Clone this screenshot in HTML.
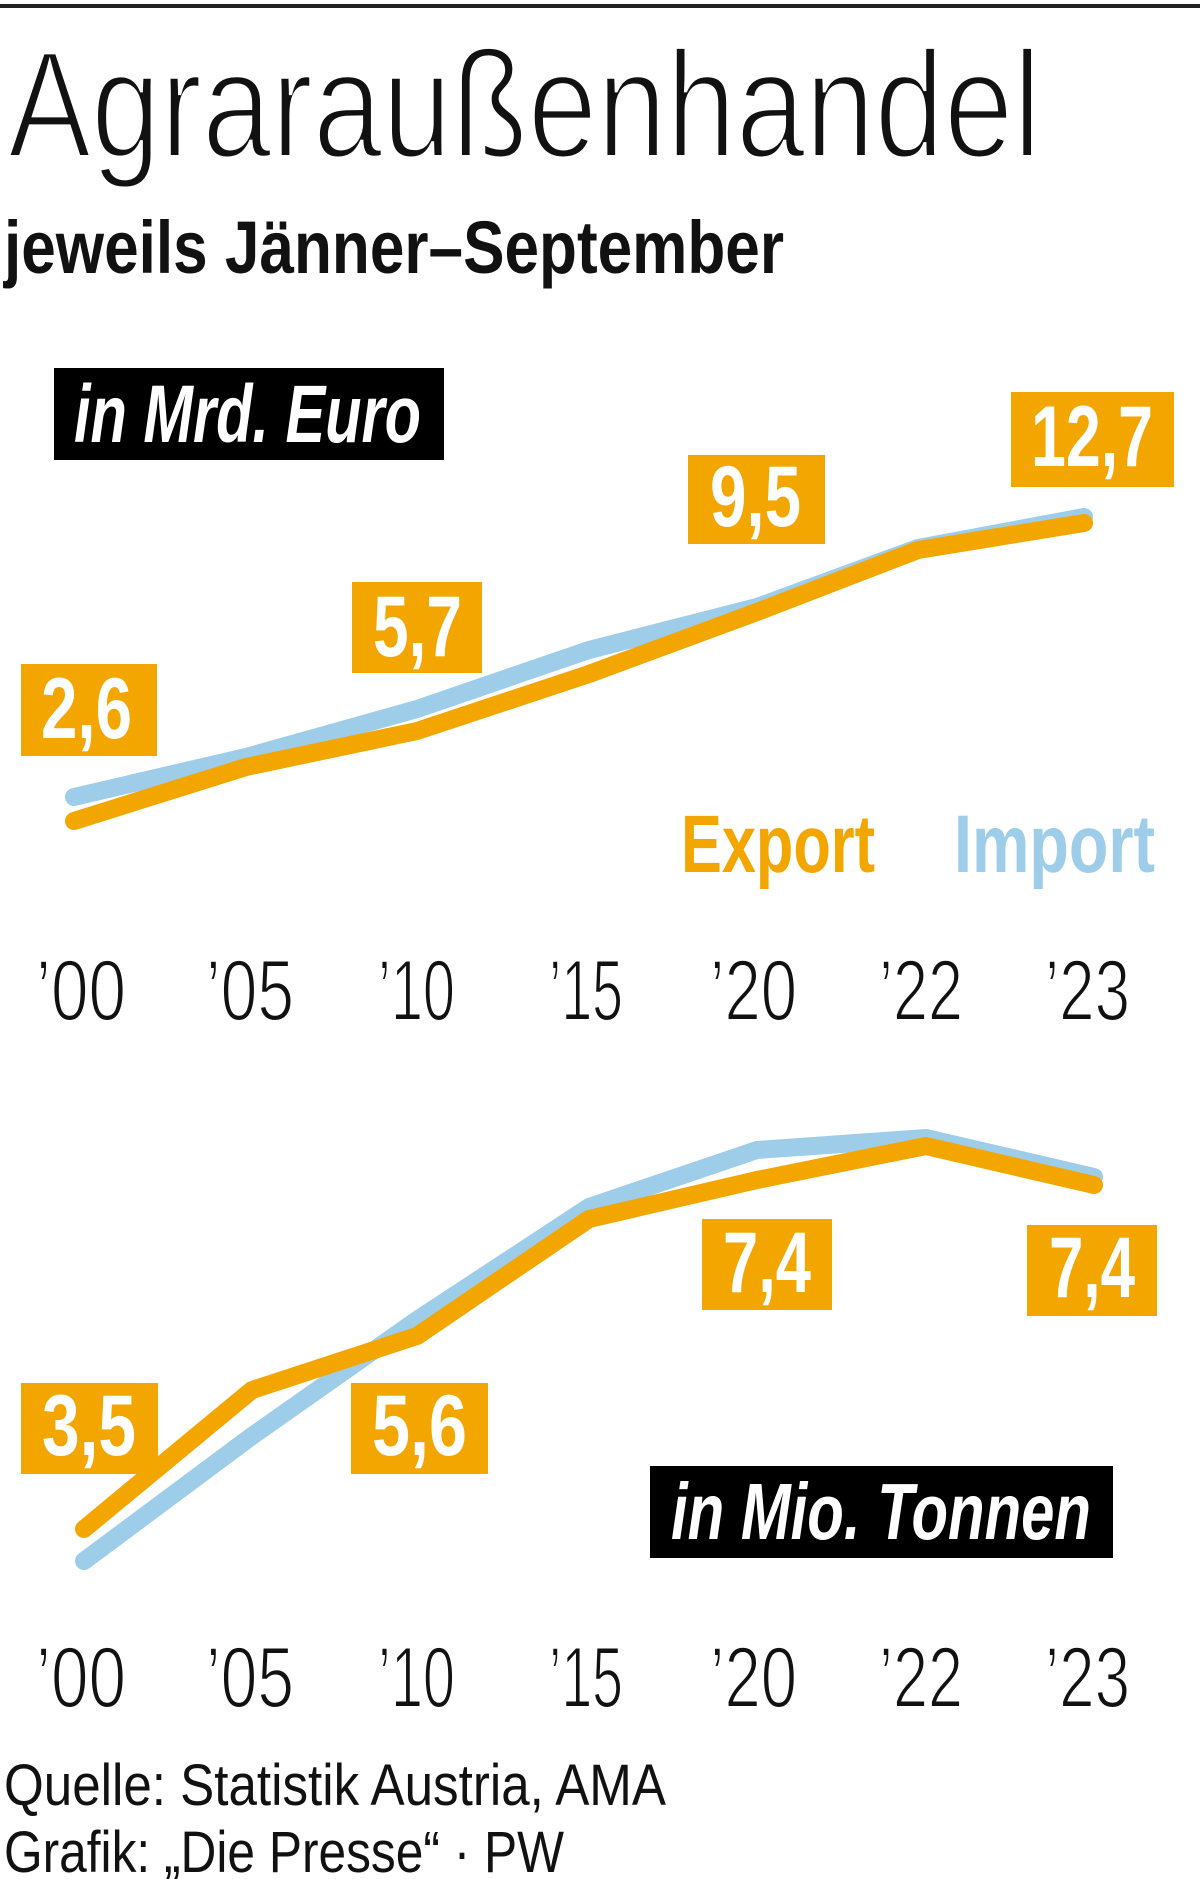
<!DOCTYPE html>
<html><head><meta charset="utf-8"><style>
html,body{margin:0;padding:0;background:#fff;}
svg{display:block;}
text{font-family:"Liberation Sans",sans-serif;}
</style></head><body>
<svg width="1200" height="1879" viewBox="0 0 1200 1879" xmlns="http://www.w3.org/2000/svg">
<rect x="0" y="0" width="1200" height="1879" fill="#fff"/>
<rect x="0" y="4" width="1200" height="4" fill="#222"/>

<text x="8" y="157" font-size="152" textLength="1033" lengthAdjust="spacingAndGlyphs" fill="#111" stroke="#fff" stroke-width="4">Agraraußenhandel</text>
<text x="4" y="273" font-size="74" font-weight="bold" textLength="780" lengthAdjust="spacingAndGlyphs" fill="#111">jeweils Jänner–September</text>

<rect x="54" y="368" width="390" height="92" fill="#000"/>
<text x="74" y="442" font-size="82" font-weight="bold" font-style="italic" textLength="347" lengthAdjust="spacingAndGlyphs" fill="#fff">in Mrd. Euro</text>

<!-- chart 1 lines -->
<polyline points="74,797 246,757 417,709 589,650 757,607 918,548 1084,517" fill="none" stroke="#9ECDEA" stroke-width="18" stroke-linecap="round" stroke-linejoin="round"/>
<polyline points="74,821 246,767 417,731 589,674 757,612 918,550 1084,523" fill="none" stroke="#F3A600" stroke-width="18" stroke-linecap="round" stroke-linejoin="round"/>

<rect x="21" y="664" width="136" height="92" fill="#F3A600"/>
<text x="41" y="738" font-size="86" font-weight="bold" textLength="91" lengthAdjust="spacingAndGlyphs" fill="#fff">2,6</text>
<rect x="352" y="582" width="130" height="91" fill="#F3A600"/>
<text x="373" y="656" font-size="86" font-weight="bold" textLength="89" lengthAdjust="spacingAndGlyphs" fill="#fff">5,7</text>
<rect x="688" y="455" width="137" height="89" fill="#F3A600"/>
<text x="710" y="526" font-size="86" font-weight="bold" textLength="91" lengthAdjust="spacingAndGlyphs" fill="#fff">9,5</text>
<rect x="1011" y="392" width="163" height="95" fill="#F3A600"/>
<text x="1031" y="466" font-size="86" font-weight="bold" textLength="122" lengthAdjust="spacingAndGlyphs" fill="#fff">12,7</text>

<text x="681" y="872" font-size="82" font-weight="bold" textLength="194" lengthAdjust="spacingAndGlyphs" fill="#F3A600">Export</text>
<text x="954" y="872" font-size="82" font-weight="bold" textLength="201" lengthAdjust="spacingAndGlyphs" fill="#9ECDEA">Import</text>

<g font-size="86" fill="#111" stroke="#fff" stroke-width="2">
<text x="36" y="1020" textLength="90" lengthAdjust="spacingAndGlyphs">’00</text>
<text x="206" y="1020" textLength="88" lengthAdjust="spacingAndGlyphs">’05</text>
<text x="378" y="1020" textLength="77" lengthAdjust="spacingAndGlyphs">’10</text>
<text x="549" y="1020" textLength="74" lengthAdjust="spacingAndGlyphs">’15</text>
<text x="710" y="1020" textLength="87" lengthAdjust="spacingAndGlyphs">’20</text>
<text x="879" y="1020" textLength="84" lengthAdjust="spacingAndGlyphs">’22</text>
<text x="1045" y="1020" textLength="85" lengthAdjust="spacingAndGlyphs">’23</text>
</g>

<!-- chart 2 lines -->
<polyline points="84,1561 252,1436 417,1320 589,1207 757,1150 926,1138 1094,1177" fill="none" stroke="#9ECDEA" stroke-width="18" stroke-linecap="round" stroke-linejoin="round"/>
<polyline points="84,1529 252,1390 417,1336 589,1219 757,1180 926,1146 1094,1185" fill="none" stroke="#F3A600" stroke-width="18" stroke-linecap="round" stroke-linejoin="round"/>

<rect x="21" y="1383" width="137" height="91" fill="#F3A600"/>
<text x="42" y="1455" font-size="86" font-weight="bold" textLength="94" lengthAdjust="spacingAndGlyphs" fill="#fff">3,5</text>
<rect x="351" y="1383" width="137" height="91" fill="#F3A600"/>
<text x="372" y="1455" font-size="86" font-weight="bold" textLength="95" lengthAdjust="spacingAndGlyphs" fill="#fff">5,6</text>
<rect x="702" y="1219" width="130" height="91" fill="#F3A600"/>
<text x="723" y="1292" font-size="86" font-weight="bold" textLength="88" lengthAdjust="spacingAndGlyphs" fill="#fff">7,4</text>
<rect x="1027" y="1225" width="130" height="91" fill="#F3A600"/>
<text x="1049" y="1297" font-size="86" font-weight="bold" textLength="86" lengthAdjust="spacingAndGlyphs" fill="#fff">7,4</text>

<rect x="650" y="1466" width="463" height="92" fill="#000"/>
<text x="671" y="1539" font-size="80" font-weight="bold" font-style="italic" textLength="420" lengthAdjust="spacingAndGlyphs" fill="#fff">in Mio. Tonnen</text>

<g font-size="86" fill="#111" stroke="#fff" stroke-width="2">
<text x="36" y="1707" textLength="90" lengthAdjust="spacingAndGlyphs">’00</text>
<text x="206" y="1707" textLength="88" lengthAdjust="spacingAndGlyphs">’05</text>
<text x="378" y="1707" textLength="77" lengthAdjust="spacingAndGlyphs">’10</text>
<text x="549" y="1707" textLength="74" lengthAdjust="spacingAndGlyphs">’15</text>
<text x="710" y="1707" textLength="87" lengthAdjust="spacingAndGlyphs">’20</text>
<text x="879" y="1707" textLength="84" lengthAdjust="spacingAndGlyphs">’22</text>
<text x="1045" y="1707" textLength="85" lengthAdjust="spacingAndGlyphs">’23</text>
</g>

<text x="4" y="1805" font-size="58" textLength="662" lengthAdjust="spacingAndGlyphs" fill="#111">Quelle: Statistik Austria, AMA</text>
<text x="4" y="1872" font-size="58" textLength="560" lengthAdjust="spacingAndGlyphs" fill="#111">Grafik: „Die Presse“ · PW</text>
</svg>
</body></html>
